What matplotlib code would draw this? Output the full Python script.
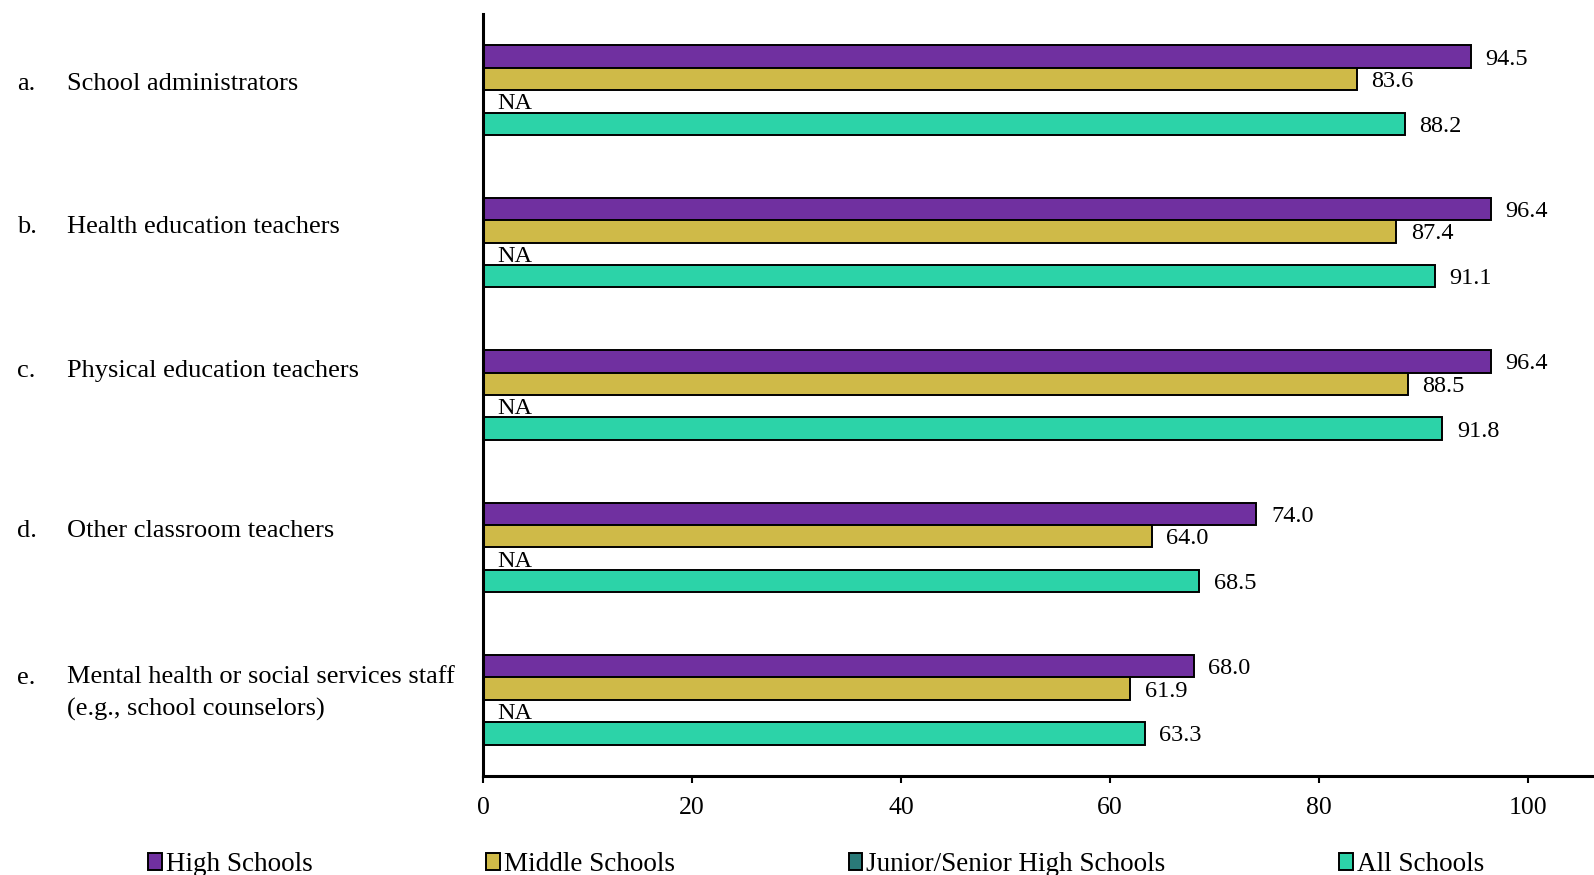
import numpy as np
import matplotlib.pyplot as plt
import matplotlib.transforms as mtransforms
from matplotlib.patches import Patch

plt.rcParams['font.family'] = ['Liberation Serif', 'DejaVu Serif']

# data
letters = ["a.", "b.", "c.", "d.", "e."]
categories = ["School administrators",
              "Health education teachers",
              "Physical education teachers",
              "Other classroom teachers",
              "Mental health or social services staff\n(e.g., school counselors)"]
series_names = ["High Schools", "Middle Schools", "Junior/Senior High Schools", "All Schools"]
high = [94.5, 96.4, 96.4, 74.0, 68.0]
middle = [83.6, 87.4, 88.5, 64.0, 61.9]
junior_senior = [None, None, None, None, None]   # NA
all_schools = [88.2, 91.1, 91.8, 68.5, 63.3]
xticks = [0, 20, 40, 60, 80, 100]

colors = ["#7030A0", "#CFBA48", "#2A7A78", "#2CD3A8"]
# small vertical nudges of the category labels (data units)
label_shift = [-0.04, -0.10, -0.16, -0.11, -0.04]

fig = plt.figure(figsize=(15.94, 8.75), dpi=100)
ax = fig.add_axes([483/1594, 1-776/875, 1-483/1594, (776-14)/875])

h = 0.147
y = np.arange(len(categories))
offsets = [-1.5*h, -0.5*h, 0.5*h, 1.5*h]
series = [high, middle, junior_senior, all_schools]

for vals, off, col in zip(series, offsets, colors):
    for yi, v in zip(y, vals):
        if v is None:
            ax.annotate("NA", (0, yi + off), xytext=(10.5, 0), textcoords='offset points',
                        va='center_baseline', ha='left', fontsize=17.5)
            continue
        ax.barh(yi + off, v, height=h, color=col, edgecolor='black', linewidth=1.4)
        ax.annotate(f"{v:.1f}", (v, yi + off), xytext=(10.5, 0), textcoords='offset points',
                    va='center_baseline', ha='left', fontsize=17.5)

ax.set_ylim(len(categories) - 0.5, -0.5)
ax.set_xlim(0, 106.3)
ax.set_xticks(xticks)
ax.set_yticks([])
ax.tick_params(axis='x', labelsize=18.5, length=5, width=1.5, pad=10)

for s in ['top', 'right']:
    ax.spines[s].set_visible(False)
ax.spines['left'].set_linewidth(2.2)
ax.spines['bottom'].set_linewidth(2.2)

trans = mtransforms.blended_transform_factory(fig.transFigure, ax.transData)
for i, (let, cat) in enumerate(zip(letters, categories)):
    n_lines = cat.count("\n")
    ax.text(17/1594, i + label_shift[i], let + "\n " * n_lines, transform=trans, fontsize=19,
            va='center', ha='left', linespacing=1.55, clip_on=False)
    ax.text(67/1594, i + label_shift[i], cat, transform=trans, fontsize=19,
            va='center', ha='left', linespacing=1.55, clip_on=False)

handles = [Patch(facecolor=c, edgecolor='black', linewidth=1.4) for c in colors]
fig.legend(handles, series_names, loc='center left', bbox_to_anchor=(148/1594, 0.012),
           ncol=4, frameon=False, fontsize=19.5, handlelength=0.5, handleheight=0.6,
           handletextpad=0.15, columnspacing=6.42, borderpad=0, borderaxespad=0)

fig.savefig("out.png", dpi=100)
